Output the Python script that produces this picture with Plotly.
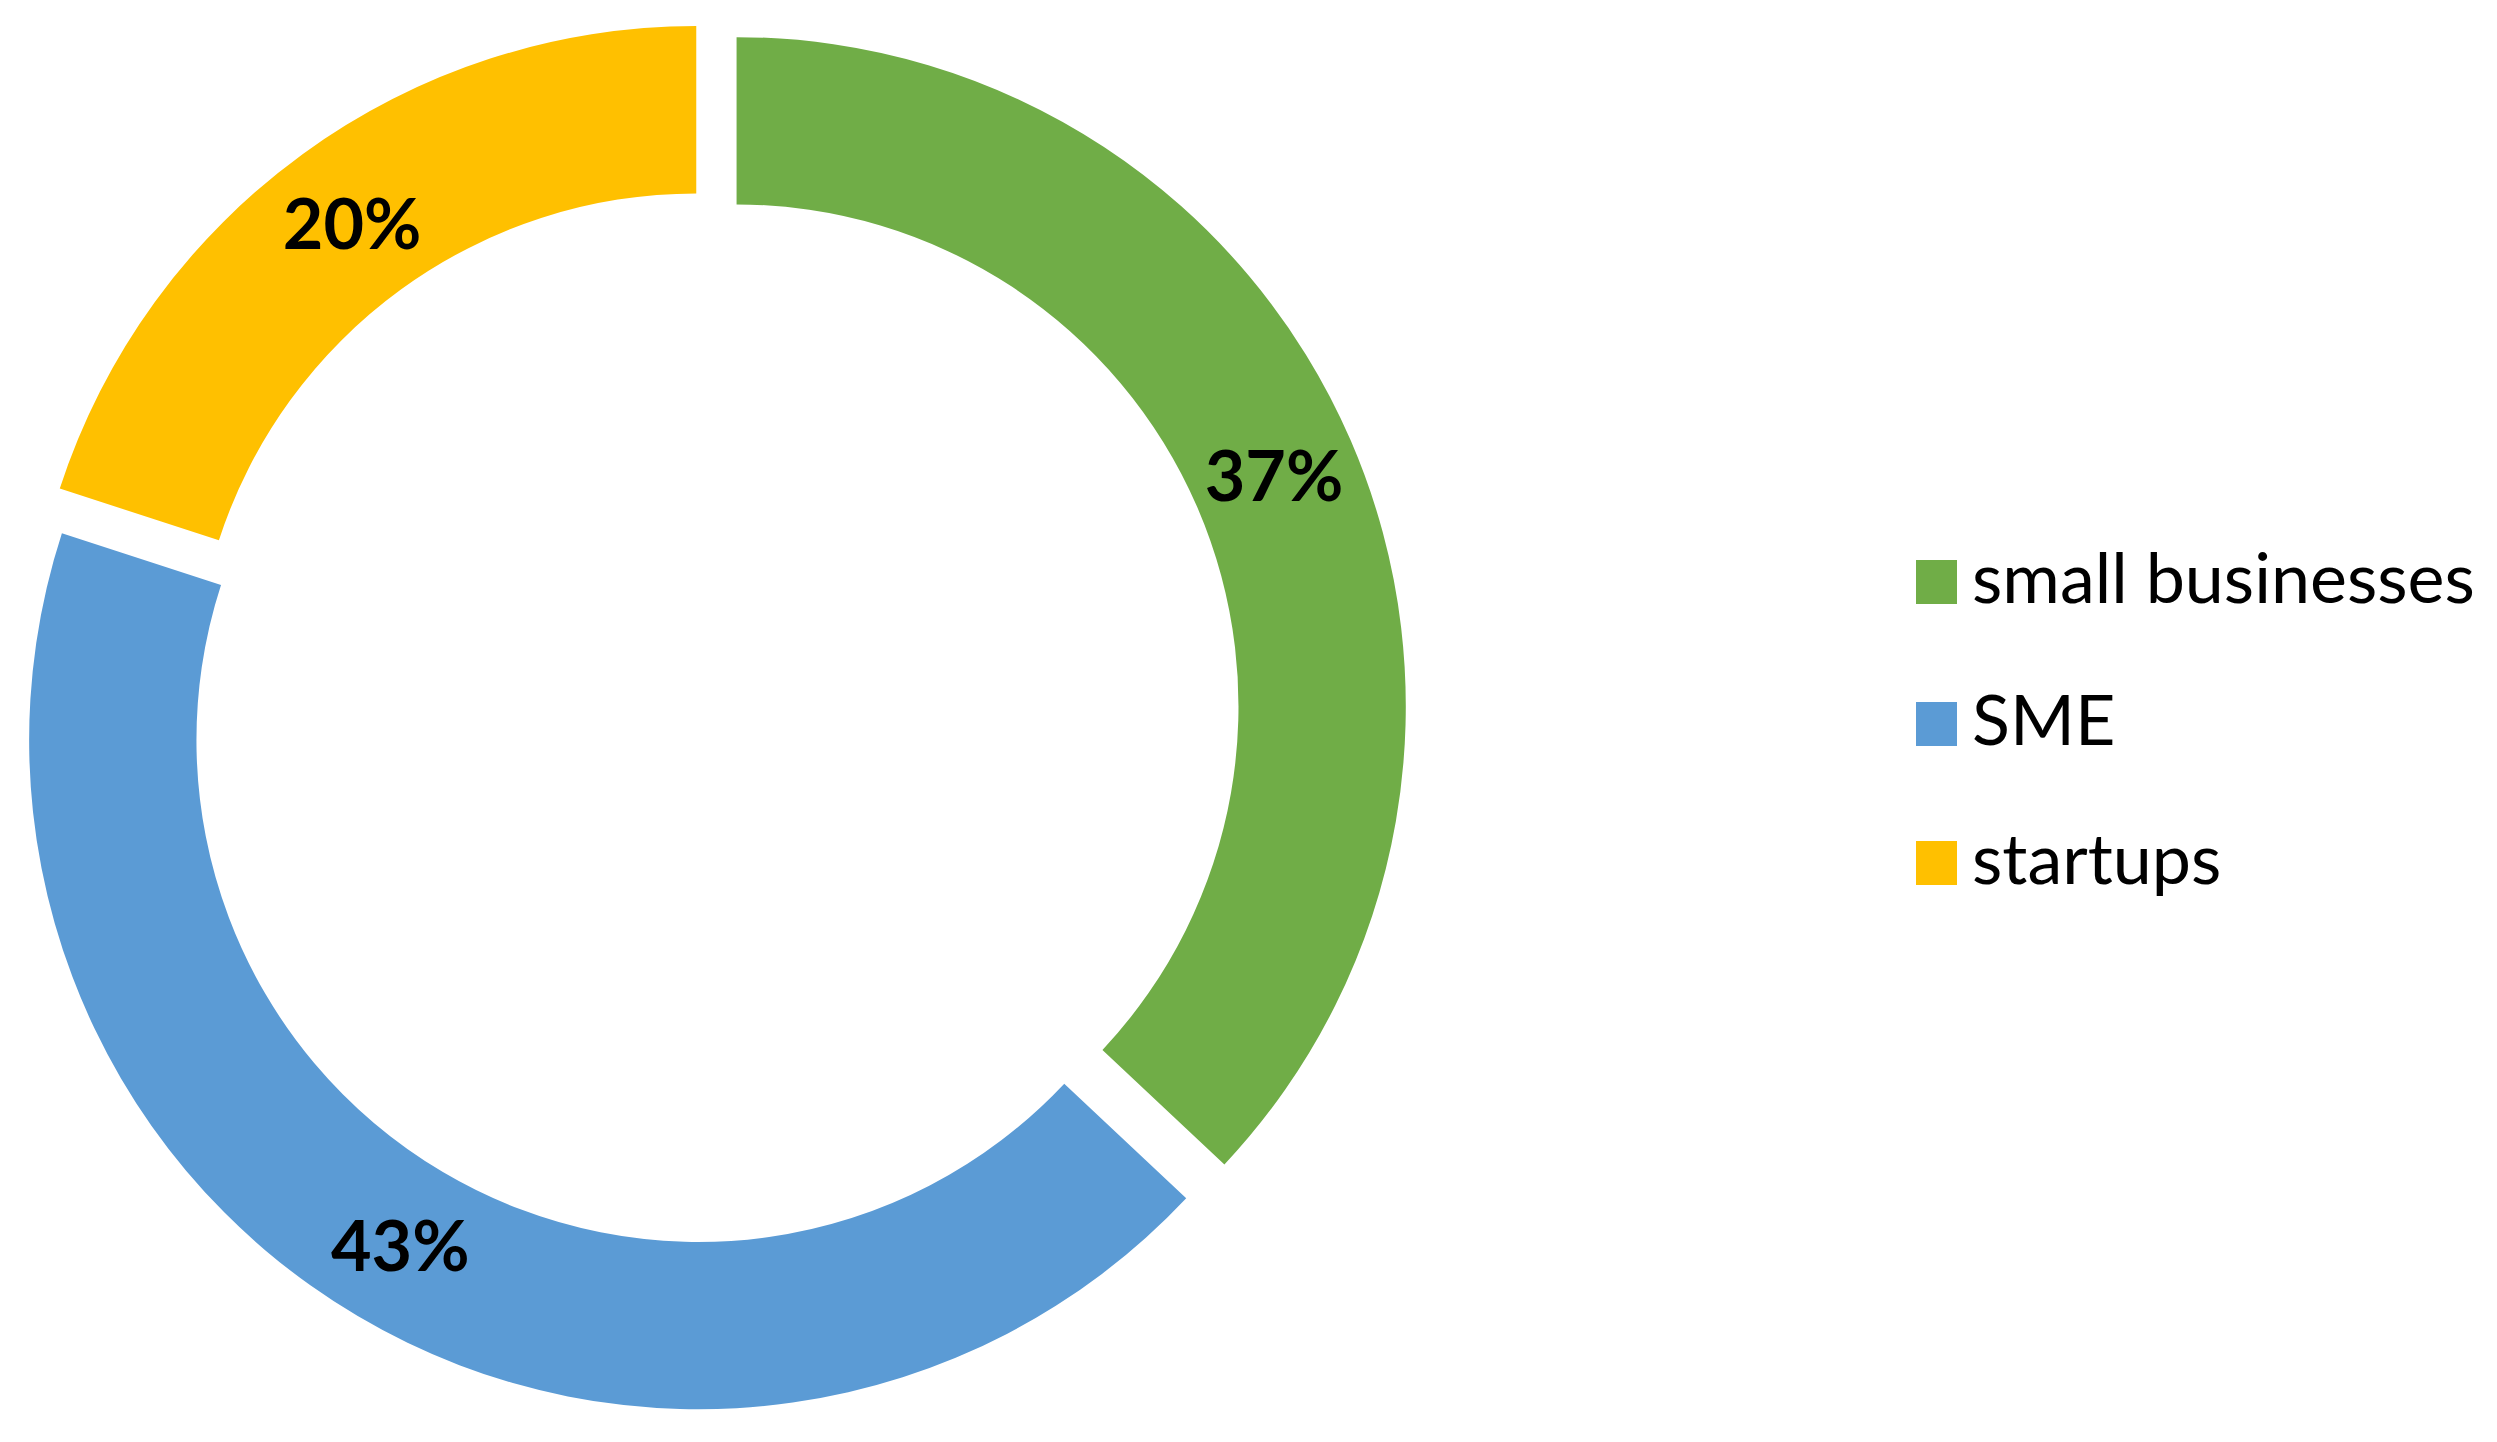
import plotly.graph_objects as go

labels = ["small businesses", "SME", "startups"]
values = [37, 43, 20]
colors = ["#70AD47", "#5B9BD5", "#FFC000"]
pulls = [0.04, 0.04, 0.04]

W, H = 2497, 1442

fig = go.Figure()
fig.add_trace(
    go.Pie(
        labels=labels,
        values=values,
        hole=0.75,
        sort=False,
        direction="clockwise",
        rotation=0,
        pull=pulls,
        marker=dict(colors=colors, line=dict(width=0)),
        textinfo="percent",
        textposition="inside",
        insidetextorientation="horizontal",
        textfont=dict(family="Lato", size=70, color="black", weight="bold"),
        domain=dict(x=[8 / W, 1400 / W], y=[1 - 1405 / H, 1 - 13 / H]),
        showlegend=False,
    )
)

# legend drawn by hand so the swatches can be as large as in the original
row_y = [574, 716, 855]
for name, color, yc in zip(labels, colors, row_y):
    fig.add_shape(
        type="rect",
        xref="paper", yref="paper",
        x0=1908 / W, x1=1949 / W,
        y0=1 - (yc + 22) / H, y1=1 - (yc - 22) / H,
        fillcolor=color, line=dict(width=0),
    )
    fig.add_annotation(
        xref="paper", yref="paper",
        x=1962 / W, y=1 - (yc - 6) / H,
        xanchor="left", yanchor="middle",
        text=name, showarrow=False,
        font=dict(family="Lato", size=70, color="black"),
    )

fig.update_layout(
    width=W,
    height=H,
    margin=dict(l=0, r=0, t=0, b=0),
    paper_bgcolor="white",
    plot_bgcolor="white",
)
fig.write_html("out.html")
